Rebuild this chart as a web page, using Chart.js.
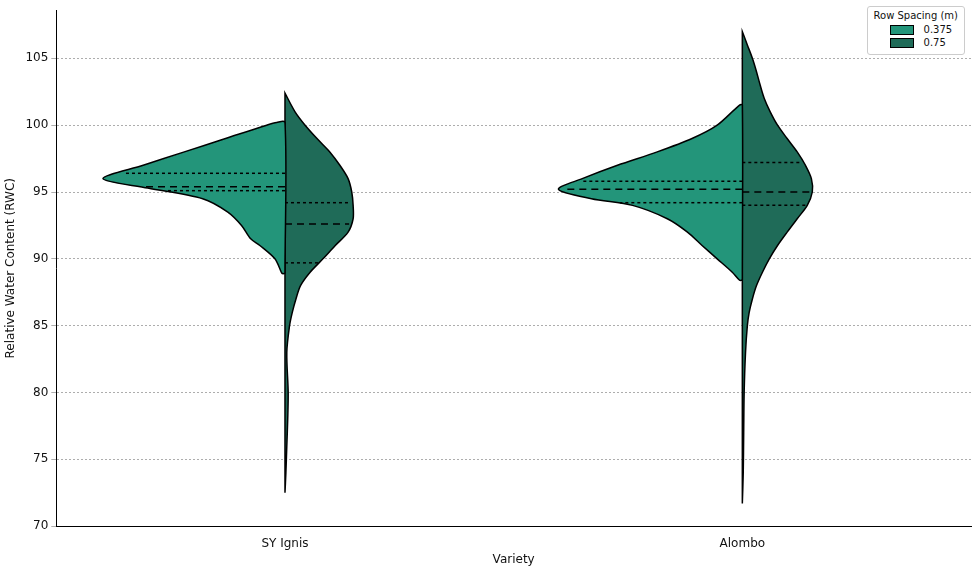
<!DOCTYPE html>
<html>
<head>
<meta charset="utf-8">
<script src="https://cdn.jsdelivr.net/npm/chart.js@4.4.1/dist/chart.umd.min.js"></script>
<style>
  body { margin: 0; background: #fff; font-family: "DejaVu Sans", sans-serif; }
  #wrap { position: relative; width: 975px; height: 567px; }
  #legend { position: absolute; right: 10px; top: 6px; border: 1px solid #ccc; border-radius: 3px;
    background: #fff; padding: 3px 6px 4px 6px; font-size: 10px; color: #111; }
  #legend .t { text-align: center; margin-bottom: 3px; }
  #legend .r { display: flex; align-items: center; margin: 2px 0 2px 16px; }
  #legend .sw { width: 22px; height: 8px; border: 1px solid #000; margin-right: 10px; }
</style>
</head>
<body>
<div id="wrap">
  <canvas id="violinChart" width="975" height="567"></canvas>
  <div id="legend">
    <div class="t">Row Spacing (m)</div>
    <div class="r"><span class="sw" style="background:#23957a"></span>0.375</div>
    <div class="r"><span class="sw" style="background:#1f6b58"></span>0.75</div>
  </div>
</div>
<script>
// ## DATA ##
const varieties = ["SY Ignis", "Alombo"];
const spacings = ["0.375", "0.75"];

// half-width profiles: [RWC value, half width]
const ignisNarrowY = [88.9, 89, 90, 91, 91.5, 92.5, 93.5, 94.5, 95.3, 96, 97, 98, 99, 100, 100.2];
const ignisNarrowW = [0.006, 0.008, 0.022, 0.055, 0.075, 0.095, 0.125, 0.18, 0.3, 0.398, 0.31, 0.22, 0.13, 0.04, 0.018];
const ignisWideY = [72.5, 74, 76, 78, 80, 83, 85, 86, 87, 88, 89, 90, 91, 92, 93, 94, 95, 96, 97, 98, 99, 100, 101, 102.4];
const ignisWideW = [0, 0.002, 0.004, 0.006, 0.007, 0.004, 0.01, 0.016, 0.024, 0.034, 0.055, 0.083, 0.11, 0.138, 0.149, 0.149, 0.146, 0.138, 0.12, 0.098, 0.07, 0.044, 0.022, 0];
const alomboNarrowY = [88.4, 89, 90, 91, 92, 93, 94, 94.5, 95.2, 96, 97, 98, 99, 100, 101.5];
const alomboNarrowW = [0.006, 0.022, 0.055, 0.088, 0.12, 0.164, 0.24, 0.33, 0.402, 0.35, 0.273, 0.186, 0.11, 0.055, 0.006];
const alomboWideY = [71.7, 74, 77, 80, 83, 85, 86, 87, 88, 89, 90, 91, 92, 93, 94, 95, 96, 97, 98, 99, 100, 101, 102, 103, 104, 105, 106, 107];
const alomboWideW = [0, 0.002, 0.003, 0.004, 0.007, 0.011, 0.015, 0.022, 0.031, 0.044, 0.059, 0.077, 0.098, 0.12, 0.142, 0.153, 0.151, 0.138, 0.12, 0.098, 0.077, 0.061, 0.048, 0.039, 0.031, 0.022, 0.011, 0];

// quartiles [q1, median, q3]
const ignisNarrowQ = [95.1, 95.4, 96.4];
const ignisWideQ = [89.7, 92.6, 94.2];
const alomboNarrowQ = [94.2, 95.2, 95.8];
const alomboWideQ = [94.0, 95.0, 97.2];

const yTicks = [70, 75, 80, 85, 90, 95, 100, 105];

const colors = ["#23957a", "#1f6b58"];

function widthAt(ys, ws, v) {
  for (let i = 0; i < ys.length - 1; i++) {
    if (v >= ys[i] && v <= ys[i + 1]) {
      const t = (v - ys[i]) / (ys[i + 1] - ys[i]);
      return ws[i] + t * (ws[i + 1] - ws[i]);
    }
  }
  return 0;
}

function halfViolin(center, side, ys, ws, color) {
  const pts = [{ x: center, y: ys[0] }];
  ys.forEach((y, i) => pts.push({ x: center + side * ws[i], y: y }));
  pts.push({ x: center, y: ys[ys.length - 1] });
  pts.push({ x: center, y: ys[0] });
  return {
    data: pts,
    showLine: true,
    fill: "shape",
    backgroundColor: color,
    borderColor: "#000",
    borderWidth: 1.5,
    pointRadius: 0,
    tension: 0.3,
    order: 2,
  };
}

function quartileLines(center, side, ys, ws, qs) {
  return qs.map((q, i) => ({
    data: [{ x: center, y: q }, { x: center + side * widthAt(ys, ws, q) * 0.97, y: q }],
    showLine: true,
    borderColor: "#000",
    borderWidth: 1.5,
    borderDash: i === 1 ? [7, 5] : [3, 3],
    pointRadius: 0,
    fill: false,
    order: 1,
  }));
}

const datasets = [
  halfViolin(0, -1, ignisNarrowY, ignisNarrowW, colors[0]),
  halfViolin(0, 1, ignisWideY, ignisWideW, colors[1]),
  halfViolin(1, -1, alomboNarrowY, alomboNarrowW, colors[0]),
  halfViolin(1, 1, alomboWideY, alomboWideW, colors[1]),
  ...quartileLines(0, -1, ignisNarrowY, ignisNarrowW, ignisNarrowQ),
  ...quartileLines(0, 1, ignisWideY, ignisWideW, ignisWideQ),
  ...quartileLines(1, -1, alomboNarrowY, alomboNarrowW, alomboNarrowQ),
  ...quartileLines(1, 1, alomboWideY, alomboWideW, alomboWideQ),
];

const ctx = document.getElementById("violinChart").getContext("2d");
window.violinChart = new Chart(ctx, {
  type: "scatter",
  data: { datasets: datasets },
  options: {
    responsive: false,
    animation: false,
    layout: { padding: { top: 0, right: 4, left: 0, bottom: 0 } },
    plugins: { legend: { display: false }, tooltip: { enabled: false } },
    scales: {
      x: {
        min: -0.5,
        max: 1.5,
        afterBuildTicks: (axis) => { axis.ticks = [{ value: 0 }, { value: 1 }]; },
        ticks: {
          callback: (v) => varieties[v],
          color: "#111",
          padding: 2,
          font: { family: "DejaVu Sans", size: 12 },
        },
        grid: { display: false },
        border: { color: "#000", width: 1 },
        title: { display: true, text: "Variety", color: "#111", padding: 0, font: { family: "DejaVu Sans", size: 12 } },
      },
      y: {
        min: 70,
        max: 108.6,
        afterBuildTicks: (axis) => { axis.ticks = yTicks.map((v) => ({ value: v })); },
        ticks: { color: "#111", font: { family: "DejaVu Sans", size: 12 } },
        grid: { color: "#999", lineWidth: 0.8, tickLength: 5 },
        border: { color: "#000", width: 1, dash: [2, 2] },
        title: {
          display: true,
          text: "Relative Water Content (RWC)",
          color: "#111",
          font: { family: "DejaVu Sans", size: 12 },
        },
      },
    },
  },
});
</script>
</body>
</html>
